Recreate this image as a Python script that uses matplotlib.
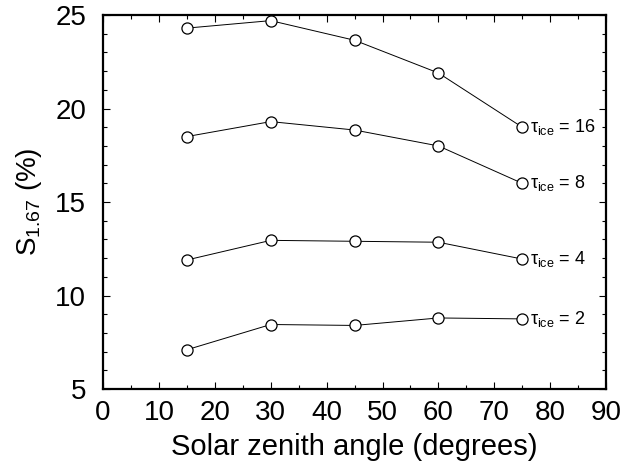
import matplotlib.pyplot as plt
from matplotlib.ticker import MultipleLocator

plt.rcParams['font.family'] = ['Liberation Sans', 'DejaVu Sans']
plt.rcParams['mathtext.fontset'] = 'custom'
plt.rcParams['mathtext.rm'] = 'Liberation Sans'
plt.rcParams['mathtext.it'] = 'Liberation Sans'

# solar zenith angle (degrees)
angles = [15, 30, 45, 60, 75]
# S_1.67 (%) for each ice optical thickness
s_tau16 = [24.3, 24.7, 23.65, 21.9, 19.0]
s_tau8 = [18.5, 19.3, 18.85, 18.0, 16.0]
s_tau4 = [11.9, 12.95, 12.9, 12.85, 11.95]
s_tau2 = [7.1, 8.45, 8.4, 8.8, 8.75]
tau_labels = ['16', '8', '4', '2']

fig = plt.figure(figsize=(6.34, 4.65), dpi=100)
ax = fig.add_axes([0.1625, 0.1634, 0.7935, 0.8043])

for vals, lab in zip([s_tau16, s_tau8, s_tau4, s_tau2], tau_labels):
    ax.plot(angles, vals, color='black', lw=0.7, marker='o', ms=8,
            mfc='white', mec='black', mew=0.9)
    ax.text(angles[-1] + 1.4, vals[-1], r'$\tau_{\mathrm{ice}}$ = ' + lab,
            fontsize=13, va='center', ha='left')

ax.set_xlim(0, 90)
ax.set_ylim(5, 25)
ax.xaxis.set_major_locator(MultipleLocator(10))
ax.xaxis.set_minor_locator(MultipleLocator(5))
ax.yaxis.set_major_locator(MultipleLocator(5))
ax.yaxis.set_minor_locator(MultipleLocator(1))
ax.tick_params(which='both', direction='in', top=True, right=True,
               labelsize=20, width=0.8)
ax.tick_params(which='major', length=5)
ax.tick_params(which='minor', length=3)
ax.tick_params(axis='y', which='major', pad=12)
ax.tick_params(axis='x', which='major', pad=8)
for sp in ax.spines.values():
    sp.set_linewidth(1.6)

ax.set_xlabel('Solar zenith angle (degrees)', fontsize=21, labelpad=5)
ax.set_ylabel(r'S$_{1.67}$ (%)', fontsize=20, labelpad=8)

fig.savefig('out.png', dpi=100)
